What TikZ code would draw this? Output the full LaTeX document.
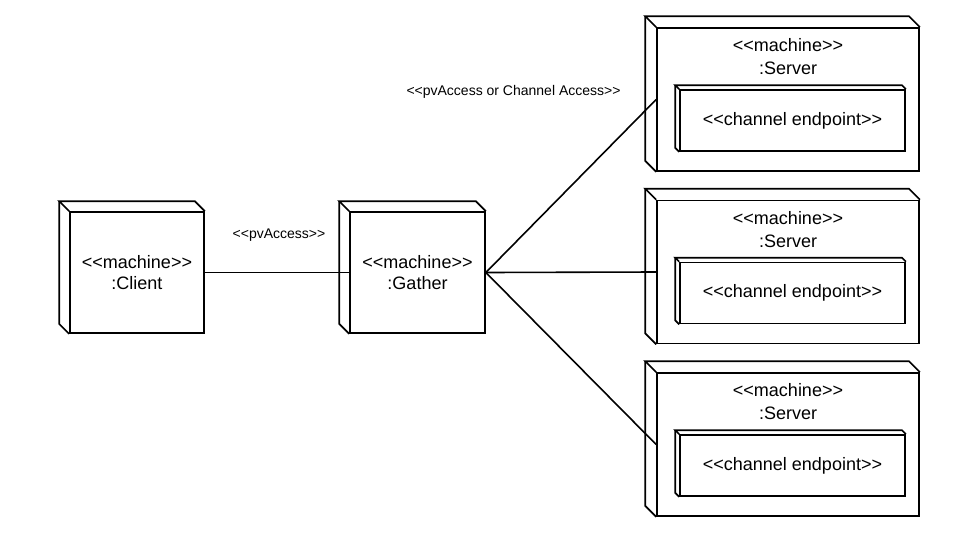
\documentclass[tikz,border=0pt]{standalone}
\usepackage{fontspec}
\setmainfont{Liberation Sans}
\usetikzlibrary{calc}
\newcommand\stlt{<{}<}
\newcommand\stgt{>{}>}
\begin{document}
\begin{tikzpicture}[x=1pt,y=-1pt,
  line width=1.7pt,
  front/.style={draw, rectangle, inner sep=0pt, fill=white, align=center,
    font=\fontsize{18}{21}\selectfont},
  lbl/.style={align=center, inner sep=0pt, font=\fontsize{18}{23}\selectfont},
  small/.style={inner sep=0pt, font=\fontsize{14}{16}\selectfont},
  conn/.style={draw, line width=1.6pt}]
\useasboundingbox (0,0) rectangle (953,536);
% machine nodes
\node[front, minimum width=134pt, minimum height=121pt] (client) at (137,272.5) {\stlt machine\stgt\\:Client};
\node[front, minimum width=135pt, minimum height=121pt] (gather) at (417.5,272.5) {\stlt machine\stgt\\:Gather};
\node[front, minimum width=262pt, minimum height=143pt] (s1) at (788,99.5) {};
\node[front, minimum width=262pt, minimum height=143pt] (s2) at (788,272) {};
\node[front, minimum width=262pt, minimum height=143pt] (s3) at (788,444.5) {};
\node[lbl] (s1t) at (788,57) {\stlt machine\stgt\\:Server};
\node[lbl] (s2t) at (788,229.5) {\stlt machine\stgt\\:Server};
\node[lbl] (s3t) at (788,402) {\stlt machine\stgt\\:Server};
\node[front, minimum width=225pt, minimum height=61pt] (e1) at (792.5,120.5) {\stlt channel endpoint\stgt};
\node[front, minimum width=225pt, minimum height=61pt] (e2) at (792.5,293) {\stlt channel endpoint\stgt};
\node[front, minimum width=225pt, minimum height=61pt] (e3) at (792.5,465.5) {\stlt channel endpoint\stgt};
% 3D faces
\foreach \n/\d in {client/10,gather/10,s1/11,s2/11,s3/11,e1/4,e2/4,e3/4}{
  \draw[line join=miter] (\n.north west) -- ++(-\d,-\d) -- ($(\n.north east)+(-\d,-\d)$) -- (\n.north east);
  \draw[line join=miter] ($(\n.north west)+(-\d,-\d)$) -- ($(\n.south west)+(-\d,-\d)$) -- (\n.south west);
}
% connectors
\draw[conn] (client.east) -- (gather.west);
\draw[conn] (gather.east) -- (s1.west);
\draw[conn] (gather.east) -- (s2.west);
\draw[conn] (gather.east) -- (s3.west);
% labels
\node[small] (l1) at (279,235) {\stlt pvAccess\stgt};
\node[small] (l2) at (513.5,92) {\stlt pvAccess or Channel Access\stgt};
\end{tikzpicture}
\end{document}
